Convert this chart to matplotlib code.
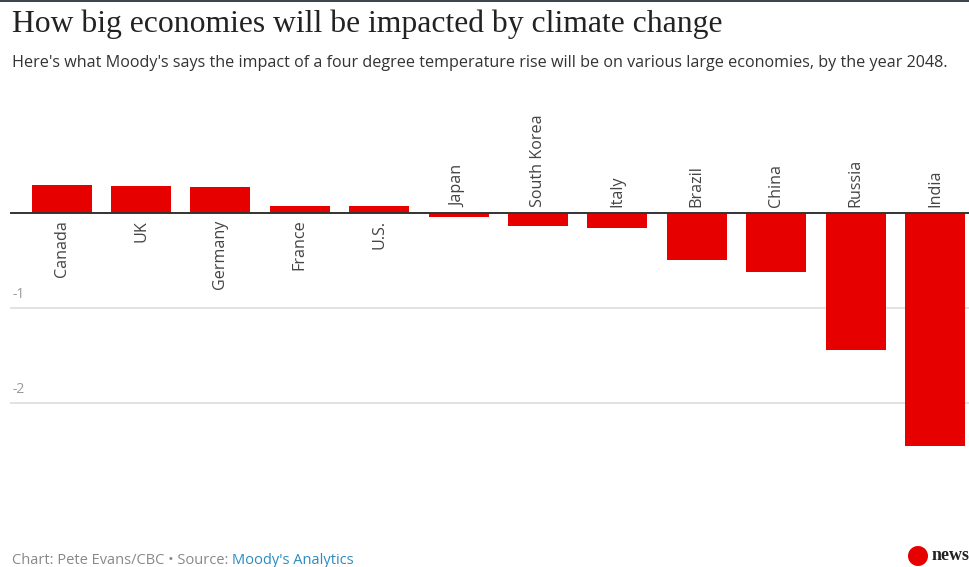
import matplotlib
matplotlib.use("Agg")
import matplotlib.pyplot as plt
from matplotlib.patches import Ellipse

countries = ["Canada", "UK", "Germany", "France", "U.S.", "Japan", "South Korea",
             "Italy", "Brazil", "China", "Russia", "India"]
impact = [0.29, 0.28, 0.27, 0.07, 0.07, -0.04, -0.14, -0.16, -0.49, -0.62, -1.44, -2.45]
yticks = [-1, -2]
ytick_labels = ["-1", "-2"]

W, H = 970, 567
fig = plt.figure(figsize=(W / 100, H / 100), dpi=100)
fig.patch.set_facecolor("white")

# axes: x from 10 to 970 px, y from 100 to 480 px
ax = fig.add_axes([10 / W, 1 - 480 / H, 960 / W, 380 / H])
ax.set_xlim(-0.65, 11.44)
ax.set_ylim(-2.81, 1.19)
for s in ax.spines.values():
    s.set_visible(False)
ax.set_xticks([])
ax.set_yticks([])

x = list(range(len(countries)))
for yt in yticks:
    ax.axhline(yt, color="#dddddd", lw=1.2, zorder=0)
ax.bar(x, impact, width=0.755, color="#e60000", zorder=2)
ax.axhline(0, color="#333333", lw=1.4, zorder=3)

for yt, lab in zip(yticks, ytick_labels):
    ax.text(-0.62, yt + 0.06, lab, ha="left", va="bottom", fontsize=10,
            color="#999999", family="Open Sans")

for xi, c, v in zip(x, countries, impact):
    if v >= 0:
        ax.text(xi, -0.07, c, rotation=90, ha="center", va="top", fontsize=11.6,
                color="#444444", family="Open Sans")
    else:
        ax.text(xi, 0.06, c, rotation=90, ha="center", va="bottom", fontsize=11.6,
                color="#444444", family="Open Sans")

# top dark band
fig.add_artist(plt.Rectangle((0, 1 - 2 / H), 1, 2 / H, transform=fig.transFigure,
                             color="#3a4550", lw=0))

fig.text(12 / W, 1 - 32 / H, "How big economies will be impacted by climate change",
         fontsize=22.8, family="Liberation Serif", color="#222222", ha="left",
         va="baseline")
fig.text(12 / W, 1 - 63 / H,
         "Here's what Moody's says the impact of a four degree temperature rise will be on various large economies, by the year 2048.",
         fontsize=11.6, family="Open Sans", color="#333333", ha="left", va="center")

t1 = fig.text(12 / W, 1 - 561 / H, "Chart: Pete Evans/CBC \u2022 Source: ", fontsize=10.5,
              family="Open Sans", color="#888888", ha="left", va="center")
fig.canvas.draw()
bb = t1.get_window_extent()
fig.text(bb.x1 / W, 1 - 561 / H, "Moody's Analytics", fontsize=10.5,
         family="Open Sans", color="#2a8bc0", ha="left", va="center")

# CBC news logo
fig.add_artist(Ellipse((918 / W, 1 - 556 / H), 20 / W, 20 / H, transform=fig.transFigure,
                       color="#e60000", lw=0))
fig.text(932 / W, 1 - 555 / H, "news", fontsize=13, family="Liberation Serif",
         weight="bold", color="#222222", ha="left", va="center")

fig.savefig("out.png", dpi=100)
